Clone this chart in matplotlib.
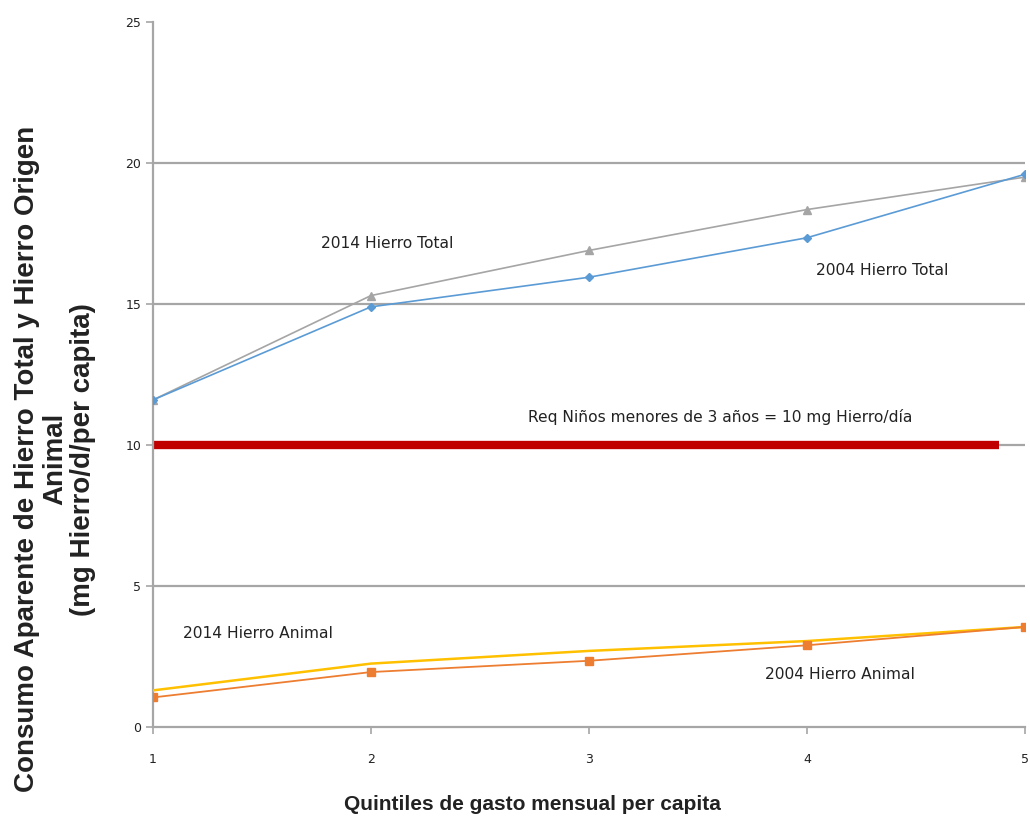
import numpy as np
import matplotlib.pyplot as plt

quintiles = [1, 2, 3, 4, 5]
total_2004 = [11.6, 14.9, 15.95, 17.35, 19.6]
total_2014 = [11.6, 15.3, 16.9, 18.35, 19.5]
animal_2004 = [1.05, 1.95, 2.35, 2.9, 3.55]
animal_2014 = [1.3, 2.25, 2.7, 3.05, 3.55]
req_value = 10
req_span = [1, 4.88]
yticks = [0, 5, 10, 15, 20, 25]

plt.rcParams['font.family'] = ['DejaVu Sans']

fig = plt.figure(figsize=(10.3, 8.16), dpi=100)
ax = fig.add_axes([0.1485, 0.109, 0.8465, 0.864])

# horizontal grid lines (no line at 25)
for v in yticks[1:-1]:
    ax.axhline(v, color='#a6a6a6', lw=1.6, zorder=1)

ax.plot(quintiles, total_2014, color='#a5a5a5', lw=1.2, marker='^', ms=6, zorder=3)
ax.plot(quintiles, total_2004, color='#5b9bd5', lw=1.2, marker='D', ms=4.5, zorder=4)
ax.plot(quintiles, animal_2014, color='#ffc000', lw=1.8, zorder=3)
ax.plot(quintiles, animal_2004, color='#ed7d31', lw=1.3, marker='s', ms=6, zorder=4)

ax.plot(req_span, [req_value, req_value], color='#c00000', lw=6, solid_capstyle='butt', zorder=2)

fs = 11.2
ax.text(1.77, 17.15, '2014 Hierro Total', fontsize=fs, va='center', color='#222222')
ax.text(4.04, 16.2, '2004 Hierro Total', fontsize=fs, va='center', color='#222222')
ax.text(2.72, 11.0, 'Req Niños menores de 3 años = 10 mg Hierro/día', fontsize=fs, va='center', color='#222222')
ax.text(1.14, 3.3, '2014 Hierro Animal', fontsize=fs, va='center', color='#222222')
ax.text(3.81, 1.85, '2004 Hierro Animal', fontsize=fs, va='center', color='#222222')

ax.set_xlim(1, 5)
ax.set_ylim(0, 25)
ax.set_xticks(quintiles)
ax.set_yticks(yticks)
ax.tick_params(axis='both', colors='#a6a6a6', labelcolor='#222222', labelsize=9, length=5, width=1.2)
ax.tick_params(axis='x', pad=14)
for s in ['top', 'right']:
    ax.spines[s].set_visible(False)
for s in ['left', 'bottom']:
    ax.spines[s].set_color('#a6a6a6')
    ax.spines[s].set_linewidth(1.6)

ax.set_xlabel('Quintiles de gasto mensual per capita', fontsize=15, fontweight='bold',
              family=['Liberation Sans', 'DejaVu Sans'], color='#222222')
ax.xaxis.set_label_coords(0.435, -0.097)
ax.set_ylabel('Consumo Aparente de Hierro Total y Hierro Origen\nAnimal\n(mg Hierro/d/per capita)',
              fontsize=20, fontweight='bold', family=['Liberation Sans', 'DejaVu Sans'],
              linespacing=1.1, color='#222222')
ax.yaxis.set_label_coords(-0.065, 0.38)

fig.savefig('out.png', dpi=100)
